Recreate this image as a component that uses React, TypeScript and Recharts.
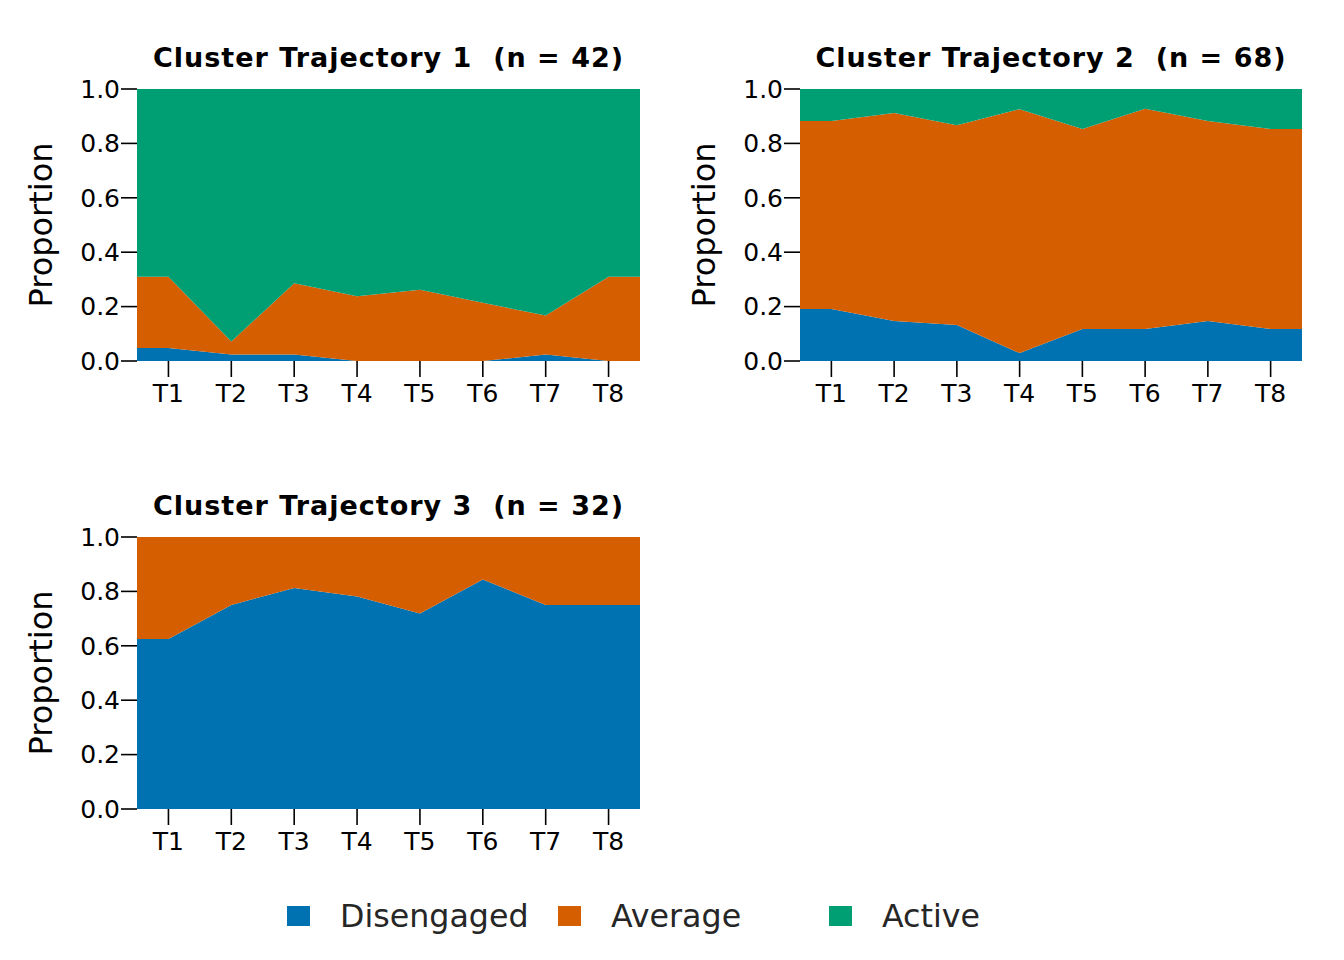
import React from 'react';
import { AreaChart, Area, XAxis, YAxis } from 'recharts';

const categories = ['T1', 'T2', 'T3', 'T4', 'T5', 'T6', 'T7', 'T8'];
const seriesNames = ['Disengaged', 'Average', 'Active'];
const seriesKeys = ['dis', 'avg', 'act'];
const seriesColors = ['#0072B2', '#D55E00', '#009E73'];
const yTicks = [0, 0.2, 0.4, 0.6, 0.8, 1.0];

const titles = [
  'Cluster Trajectory 1  (n = 42)',
  'Cluster Trajectory 2  (n = 68)',
  'Cluster Trajectory 3  (n = 32)',
];

// Cluster 1 (n = 42)
const c1Disengaged = [0.048, 0.024, 0.024, 0.0, 0.0, 0.0, 0.024, 0.0];
const c1Average = [0.262, 0.048, 0.262, 0.238, 0.262, 0.214, 0.143, 0.31];
const c1Active = [0.69, 0.928, 0.714, 0.762, 0.738, 0.786, 0.833, 0.69];

// Cluster 2 (n = 68)
const c2Disengaged = [0.191, 0.147, 0.132, 0.029, 0.118, 0.118, 0.147, 0.118];
const c2Average = [0.691, 0.765, 0.735, 0.897, 0.735, 0.809, 0.735, 0.735];
const c2Active = [0.118, 0.088, 0.133, 0.074, 0.147, 0.073, 0.118, 0.147];

// Cluster 3 (n = 32)
const c3Disengaged = [0.625, 0.75, 0.8125, 0.781, 0.719, 0.844, 0.75, 0.75];
const c3Average = [0.375, 0.25, 0.1875, 0.219, 0.281, 0.156, 0.25, 0.25];
const c3Active = [0, 0, 0, 0, 0, 0, 0, 0];

const FONT = '"DejaVu Sans", Verdana, sans-serif';

// Build table: positions 1..8 for T1..T8, plus flat extensions to the panel edges.
function buildTable(dis: number[], avg: number[], act: number[]) {
  const rows = categories.map((c, i) => ({ x: i + 1, dis: dis[i], avg: avg[i], act: act[i] }));
  const first = rows[0];
  const last = rows[rows.length - 1];
  return [{ ...first, x: 0.5 }, ...rows, { ...last, x: categories.length + 0.5 }];
}

const tables = [
  buildTable(c1Disengaged, c1Average, c1Active),
  buildTable(c2Disengaged, c2Average, c2Active),
  buildTable(c3Disengaged, c3Average, c3Active),
];

const CH_W = 672;
const CH_H = 440;
const PLOT_TOP = 89;
const PLOT_BOTTOM = 361;
const YAXIS_W = 137;
const XAXIS_H = 50;

function Panel({ idx, left, top }: { idx: number; left: number; top: number }) {
  const data = tables[idx];
  const plotLeft = YAXIS_W;
  const plotRight = idx === 1 ? CH_W - 33 : CH_W - 32;
  return (
    <div style={{ position: 'absolute', left, top, width: CH_W, height: CH_H }}>
      <div
        style={{
          position: 'absolute',
          left: plotLeft - 20,
          width: plotRight - plotLeft + 40,
          top: 42,
          height: 32,
          lineHeight: '32px',
          textAlign: 'center',
          fontFamily: FONT,
          fontWeight: 'bold',
          fontSize: 27,
          letterSpacing: 1,
          color: '#000',
          whiteSpace: 'pre',
        }}
      >
        {titles[idx]}
      </div>
      <div
        style={{
          position: 'absolute',
          left: 41,
          top: (PLOT_TOP + PLOT_BOTTOM) / 2,
          transform: 'translate(-50%, -50%) rotate(-90deg)',
          fontFamily: FONT,
          fontSize: 32,
          color: '#000',
          whiteSpace: 'nowrap',
          lineHeight: '36px',
        }}
      >
        Proportion
      </div>
      <AreaChart
        width={CH_W}
        height={CH_H}
        data={data}
        margin={{ top: PLOT_TOP, right: CH_W - plotRight, left: 0, bottom: CH_H - PLOT_BOTTOM - XAXIS_H }}
        style={{ position: 'absolute', left: 0, top: 0 }}
      >
        <XAxis
          dataKey="x"
          type="number"
          domain={[0.5, categories.length + 0.5]}
          ticks={categories.map((_, i) => i + 1)}
          tickFormatter={(v: number) => categories[v - 1] ?? ''}
          allowDataOverflow
          interval={0}
          axisLine={false}
          tickLine={{ stroke: '#000', strokeWidth: 1.6 }}
          tickSize={16}
          tickMargin={7}
          height={XAXIS_H}
          tick={{ fill: '#000', fontSize: 25, fontFamily: FONT }}
        />
        <YAxis
          type="number"
          domain={[0, 1]}
          ticks={yTicks}
          tickFormatter={(v: number) => v.toFixed(1)}
          allowDataOverflow
          interval={0}
          axisLine={false}
          tickLine={{ stroke: '#000', strokeWidth: 1.6 }}
          tickSize={16}
          tickMargin={1}
          width={YAXIS_W}
          tick={{ fill: '#000', fontSize: 25, fontFamily: FONT }}
        />
        {seriesKeys.map((k, i) => (
          <Area
            key={k}
            type="linear"
            dataKey={k}
            name={seriesNames[i]}
            stackId="s"
            fill={seriesColors[i]}
            fillOpacity={1}
            stroke="none"
            dot={false}
            activeDot={false}
            isAnimationActive={false}
          />
        ))}
      </AreaChart>
    </div>
  );
}

export default function App() {
  return (
    <div
      style={{
        position: 'absolute',
        left: 0,
        top: 0,
        width: 1344,
        height: 960,
        background: '#fff',
        overflow: 'hidden',
      }}
    >
      <Panel idx={0} left={0} top={0} />
      <Panel idx={1} left={663} top={0} />
      <Panel idx={2} left={0} top={448} />
      <div
        style={{
          position: 'absolute',
          left: 287,
          top: 896,
          height: 40,
          display: 'flex',
          alignItems: 'center',
        }}
      >
        {seriesNames.map((n, i) => (
          <div key={n} style={{ width: 271, display: 'flex', alignItems: 'center' }}>
            <div style={{ width: 23, height: 20, background: seriesColors[i], flex: 'none' }} />
            <div
              style={{
                marginLeft: 30,
                fontFamily: FONT,
                fontSize: 31.7,
                color: '#262626',
                whiteSpace: 'nowrap',
                lineHeight: '40px',
              }}
            >
              {n}
            </div>
          </div>
        ))}
      </div>
    </div>
  );
}
